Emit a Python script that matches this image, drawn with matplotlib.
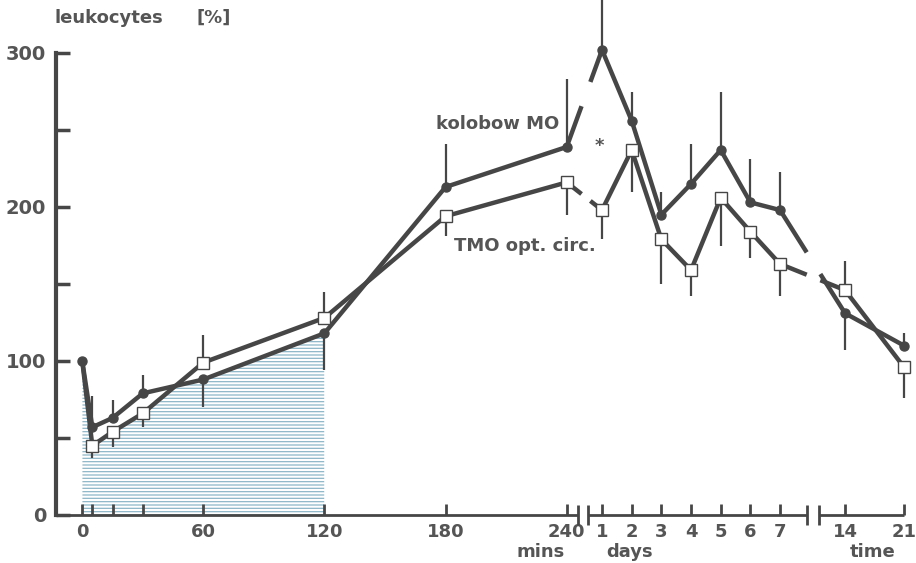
import numpy as np
import matplotlib
matplotlib.use('Agg')
import matplotlib.pyplot as plt

# leukocytes in % of baseline
minutes = [0, 5, 15, 30, 60, 120, 180, 240]
days = [1, 2, 3, 4, 5, 6, 7, 14, 21]

kolobow = [100, 57, 63, 79, 88, 118, 213, 239,
           302, 256, 195, 215, 237, 203, 198, 131, 110]
tmo = [100, 45, 54, 66, 99, 128, 194, 216,
       198, 237, 179, 159, 206, 184, 163, 146, 96]

# end of the (one sided) error bars
kolobow_err = [np.nan, 77, 75, 91, 70, 94, 241, 283,
               335, 275, 210, 241, 275, 231, 223, 107, 118]
tmo_err = [np.nan, 37, 44, 57, 117, 145, 181, 195,
           179, 210, 150, 142, 175, 167, 142, 165, 76]

min_labels = ['0', '60', '120', '180', '240']
day_labels = ['1', '2', '3', '4', '5', '6', '7', '14', '21']

# time axis in hours, broken into mins / days / weeks
hours = np.array([m / 60 for m in minutes] + [d * 24 for d in days])

H_KNOTS = np.array([-1, 0, 4, 24, 168, 336, 504, 600])
P_KNOTS = np.array([-60, 0, 240, 257.5, 345.7, 377.9, 407.1, 454])


def fwd(h):
    return np.interp(h, H_KNOTS, P_KNOTS)


def inv(p):
    return np.interp(p, P_KNOTS, H_KNOTS)


col = '#464646'
tcol = '#555555'
plt.rcParams['hatch.linewidth'] = 0.9

fig = plt.figure(figsize=(9.16, 5.63), dpi=100)
ax = fig.add_axes([56 / 916, 48 / 563, 848 / 916, 462 / 563])
ax.set_xscale('function', functions=(fwd, inv))
x_left = float(inv(-13))
ax.set_xlim(x_left, 504)
ax.set_ylim(0, 300)

# hatched area below both curves (0 - 120 min)
n = 6
clip = ax.fill_between(hours[:n], 0, kolobow[:n], facecolor='none', linewidth=0)
hat = ax.fill_between(hours[:n], 0, tmo[:n], facecolor='none', edgecolor='#8db6c8',
                      hatch='-----', linewidth=0)
hat.set_clip_path(clip.get_paths()[0], ax.transData)


def draw_series(vals, marker, mfc, ms, first):
    runs = [(0, 8), (8, 15), (15, 17)]
    for a, b in runs:
        ax.plot(hours[a:b], vals[a:b], color=col, lw=3.2, solid_capstyle='butt',
                solid_joinstyle='round', clip_on=False, zorder=3)
    # stubs across the breaks
    for i, fl, fr in [(7, 0.42, 0.33), (14, 0.41, 0.38)]:
        h0, h1 = hours[i], hours[i + 1]
        v0, v1 = vals[i], vals[i + 1]
        ax.plot([h0, h0 + fl * (h1 - h0)], [v0, v0 + fl * (v1 - v0)], color=col,
                lw=3.2, solid_capstyle='butt', zorder=3)
        ax.plot([h1 - fr * (h1 - h0), h1], [v1 - fr * (v1 - v0), v1], color=col,
                lw=3.2, solid_capstyle='butt', zorder=3)
    ax.plot(hours[first:], vals[first:], ls='none', marker=marker, mfc=mfc, mec=col,
            mew=1.0, ms=ms, clip_on=False, zorder=4)


ax.vlines(hours, kolobow, kolobow_err, color=col, lw=1.6, zorder=2, clip_on=False)
ax.vlines(hours, tmo, tmo_err, color=col, lw=1.6, zorder=2, clip_on=False)
draw_series(tmo, 's', 'white', 8, 1)
draw_series(kolobow, 'o', col, 6.5, 0)

# axes
for s in ['top', 'right', 'bottom']:
    ax.spines[s].set_visible(False)
ax.spines['left'].set_bounds(0, 300)
ax.spines['left'].set_linewidth(3)
ax.spines['left'].set_color(col)

ax.set_yticks([0, 100, 200, 300])
ax.set_yticks([50, 150, 250], minor=True)
ax.tick_params(axis='y', which='both', direction='in', length=10, width=2.5,
               color=col, labelsize=14, labelcolor=tcol, pad=7)
for lab in ax.get_yticklabels():
    lab.set_fontweight('bold')

xt_major = [0, 1, 2, 3, 4] + [d * 24 for d in days]
ax.set_xticks(xt_major)
ax.set_xticklabels(min_labels + day_labels)
ax.set_xticks([5 / 60, 15 / 60, 30 / 60], minor=True)
ax.tick_params(axis='x', which='both', direction='in', length=8, width=2,
               color=col, labelsize=13, labelcolor=tcol, pad=6)
for lab in ax.get_xticklabels():
    lab.set_fontweight('bold')

# broken x axis line
brk = [float(b) for b in inv(np.array([245.7, 250.6, 359.1, 365.0]))]
ax.hlines([0, 0, 0], [x_left, brk[1], brk[3]], [brk[0], brk[2], 504], color=col,
          lw=2, clip_on=False, zorder=3)
ax.vlines(brk, -6.5, 6.5, color=col, lw=2, clip_on=False, zorder=3)


def px(x, y):
    return x / 916, 1 - y / 563


kw = dict(color=tcol, fontweight='bold', fontsize=13)
fig.text(*px(55, 23), 'leukocytes', ha='left', va='baseline', **kw)
fig.text(*px(197, 23), '[%]', ha='left', va='baseline', **kw)
fig.text(*px(541, 552), 'mins', ha='center', va='center', **kw)
fig.text(*px(630, 552), 'days', ha='center', va='center', **kw)
fig.text(*px(873, 552), 'time', ha='center', va='center', **kw)
fig.text(*px(498, 124), 'kolobow MO', ha='center', va='center', **kw)
fig.text(*px(525, 246), 'TMO opt. circ.', ha='center', va='center', **kw)
fig.text(*px(599, 146), '*', ha='center', va='center', **kw)

fig.savefig('out.png', dpi=100)
